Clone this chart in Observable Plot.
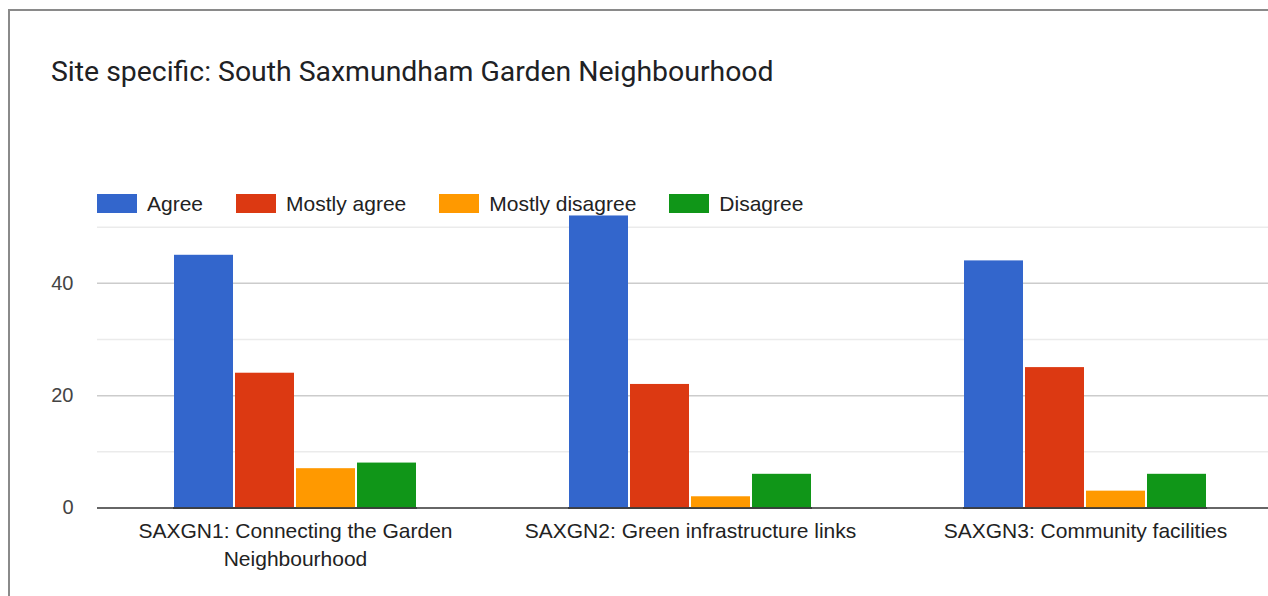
<!DOCTYPE html>
<html>
<head>
<meta charset="utf-8">
<script src="https://cdn.jsdelivr.net/npm/d3@7"></script>
<script src="https://cdn.jsdelivr.net/npm/@observablehq/plot@0.6"></script>
<style>
  html, body { margin: 0; padding: 0; background: #fff; overflow: hidden; }
  #wrap { position: relative; width: 1268px; height: 596px; overflow: hidden; background: #fff; }
  #frame { position: absolute; left: 8px; top: 9px; width: 1400px; height: 800px; border-left: 2px solid #8a8a8a; border-top: 2px solid #8a8a8a; }
  #title { position: absolute; left: 51px; top: 55px; font-family: Roboto, "Noto Sans", sans-serif; font-size: 28.4px; color: #202124; white-space: nowrap; }
  .layer { position: absolute; left: 0; top: 0; }
  .layer svg { max-width: none !important; }
  #legend { position: absolute; left: 97px; top: 191.5px; display: flex; align-items: center; font-family: "Liberation Sans", Arial, sans-serif; font-size: 21px; color: #222; }
  .item { display: flex; align-items: center; margin-right: 33px; }
  .sw { width: 40px; height: 19px; margin-right: 10px; }
</style>
</head>
<body>
<div id="wrap">
  <div id="frame"></div>
  <div id="title"></div>
  <div id="base" class="layer"></div>
  <div id="bars" class="layer"></div>
  <div id="legend"></div>
</div>
<script>
const titleText = "Site specific: South Saxmundham Garden Neighbourhood";
const groups = ["SAXGN1", "SAXGN2", "SAXGN3"];
const groupLabels = ["SAXGN1: Connecting the Garden\nNeighbourhood", "SAXGN2: Green infrastructure links", "SAXGN3: Community facilities"];
const series = ["Agree", "Mostly agree", "Mostly disagree", "Disagree"];
const colors = ["#3366cc", "#dc3912", "#ff9900", "#109618"];
const agree = [45, 52, 44];
const mostlyAgree = [24, 22, 25];
const mostlyDisagree = [7, 2, 3];
const disagree = [8, 6, 6];
const majorTicks = [0, 20, 40];
const minorGrid = [10, 30, 50];
const majorGrid = [20, 40];

const seriesValues = [agree, mostlyAgree, mostlyDisagree, disagree];
const rows = [];
groups.forEach((g, gi) => series.forEach((s, si) => rows.push({group: g, series: s, value: seriesValues[si][gi]})));

document.getElementById("title").textContent = titleText;

const W = 1290, H = 596;
const margins = {marginLeft: 97, marginRight: 7, marginTop: 226.7, marginBottom: 88.5};
const yScale = {domain: [0, 50], axis: null};
const bandOpts = {domain: groups, paddingInner: 0.383, paddingOuter: 0.1915};

const base = Plot.plot({
  width: W, height: H, ...margins,
  style: {fontFamily: "'Liberation Sans', Arial, sans-serif", fontSize: "20px", color: "#444", background: "transparent", maxWidth: "none"},
  x: {...bandOpts, axis: null},
  y: yScale,
  marks: [
    Plot.ruleY(minorGrid, {stroke: "#ebebeb", strokeWidth: 1.5}),
    Plot.ruleY(majorGrid, {stroke: "#cccccc", strokeWidth: 1.5}),
    Plot.ruleY([0], {stroke: "#333", strokeWidth: 1.5}),
    Plot.text(majorTicks, {y: d => d, frameAnchor: "left", textAnchor: "end", dx: -24, text: d => String(d), fill: "#444", fontSize: 20}),
    Plot.text(groups, {x: d => d, y: 0, text: (d, i) => groupLabels[i], lineAnchor: "top", dy: 10, lineHeight: 1.33, fill: "#222", fontSize: 21})
  ]
});
document.getElementById("base").appendChild(base);

const bars = Plot.plot({
  width: W, height: H, ...margins,
  style: {background: "transparent", maxWidth: "none"},
  facet: {data: rows, x: "group"},
  fx: {...bandOpts, axis: null},
  x: {domain: series, paddingInner: 0.025, paddingOuter: 0, axis: null},
  y: yScale,
  color: {domain: series, range: colors},
  marks: [
    Plot.barY(rows, {x: "series", y: "value", fill: "series"}),
    Plot.ruleY([0], {stroke: "#333", strokeWidth: 1.5})
  ]
});
document.getElementById("bars").appendChild(bars);

const legend = document.getElementById("legend");
series.forEach((s, i) => {
  const it = document.createElement("div");
  it.className = "item";
  const sw = document.createElement("div");
  sw.className = "sw";
  sw.style.background = colors[i];
  const t = document.createElement("span");
  t.textContent = s;
  it.appendChild(sw); it.appendChild(t);
  legend.appendChild(it);
});
</script>
</body>
</html>
